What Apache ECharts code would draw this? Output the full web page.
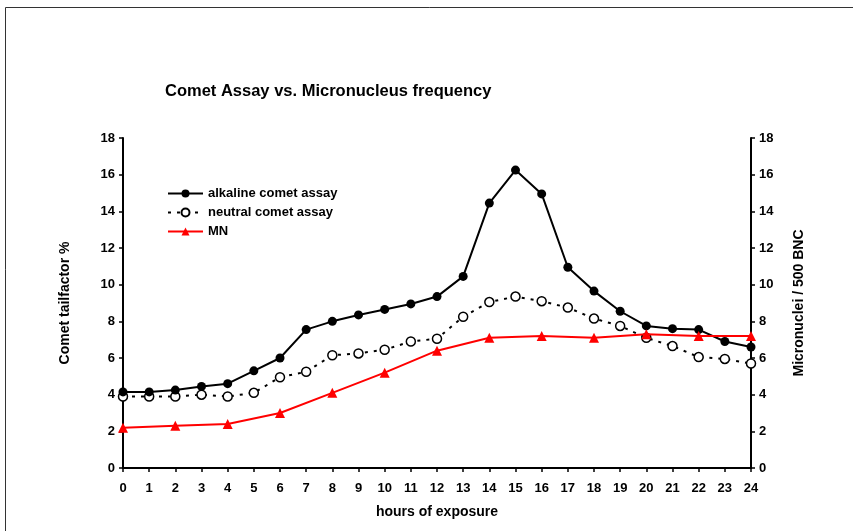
<!DOCTYPE html>
<html>
<head>
<meta charset="utf-8">
<title>Comet Assay vs. Micronucleus frequency</title>
<script src="https://cdn.jsdelivr.net/npm/echarts@6/dist/echarts.min.js"></script>
<style>
  html, body { margin: 0; padding: 0; background: #fff; }
  #chart { width: 853px; height: 531px; }
</style>
</head>
<body>
<div id="chart"></div>
<script>
// hours of exposure
const hours = [0, 1, 2, 3, 4, 5, 6, 7, 8, 9, 10, 11, 12, 13, 14, 15, 16, 17, 18, 19, 20, 21, 22, 23, 24]
const alkaline = [4.15, 4.15, 4.25, 4.45, 4.6, 5.3, 6.0, 7.55, 8.0, 8.35, 8.65, 8.95, 9.35, 10.45, 14.45, 16.25, 14.95, 10.95, 9.65, 8.55, 7.75, 7.6, 7.55, 6.9, 6.6]
const neutral = [3.9, 3.9, 3.9, 4.0, 3.9, 4.1, 4.95, 5.25, 6.15, 6.25, 6.45, 6.9, 7.05, 8.25, 9.05, 9.35, 9.1, 8.75, 8.15, 7.75, 7.1, 6.65, 6.05, 5.95, 5.7]
// MN counted every 2 hours
const mnHours = [0, 2, 4, 6, 8, 10, 12, 14, 16, 18, 20, 22, 24]
const mn = [2.2, 2.3, 2.4, 3.0, 4.1, 5.2, 6.4, 7.1, 7.2, 7.1, 7.3, 7.2, 7.2]

const font = 'Liberation Sans, Arial, sans-serif'
const labelStyle = { color: '#000', fontFamily: font, fontWeight: 'bold', fontSize: 13 }
const nameStyle = { color: '#000', fontFamily: font, fontWeight: 'bold', fontSize: 14 }
const axisLine = { show: true, lineStyle: { color: '#000', width: 2 } }
const axisTick = { show: true, length: 4, lineStyle: { color: '#000', width: 1.5 } }

const chart = echarts.init(document.getElementById('chart'))

const yAxisBase = {
  type: 'value',
  min: 0,
  max: 18,
  interval: 2,
  nameLocation: 'middle',
  nameRotate: 90,
  nameTextStyle: nameStyle,
  axisLine: axisLine,
  axisTick: axisTick,
  axisLabel: Object.assign({ margin: 8 }, labelStyle),
  splitLine: { show: false }
}

const options = {
  animation: false,
  backgroundColor: '#fff',
  graphic: [{
    type: 'rect',
    shape: { x: 5.5, y: 7.5, width: 900, height: 600 },
    style: { fill: 'none', stroke: '#333', lineWidth: 1 },
    silent: true
  }],
  title: {
    text: 'Comet Assay vs. Micronucleus frequency',
    left: 160,
    top: 78,
    textStyle: { color: '#000', fontFamily: font, fontWeight: 'bold', fontSize: 16.5 }
  },
  legend: {
    orient: 'vertical',
    left: 162,
    top: 182,
    itemWidth: 35,
    itemHeight: 10,
    itemGap: 6,
    textStyle: { color: '#000', fontFamily: font, fontWeight: 'bold', fontSize: 13 },
    data: ['alkaline comet assay', 'neutral comet assay', 'MN']
  },
  grid: { left: 123, right: 102, top: 138, bottom: 63 },
  xAxis: {
    type: 'value',
    min: 0,
    max: 24,
    interval: 1,
    name: 'hours of exposure',
    nameLocation: 'middle',
    nameGap: 37,
    nameTextStyle: nameStyle,
    axisLine: axisLine,
    axisTick: axisTick,
    axisLabel: Object.assign({ margin: 14 }, labelStyle),
    splitLine: { show: false }
  },
  yAxis: [
    Object.assign({}, yAxisBase, { name: 'Comet tailfactor %', nameGap: 51, position: 'left' }),
    Object.assign({}, yAxisBase, { name: 'Micronuclei / 500 BNC', nameGap: 41, position: 'right' })
  ],
  series: [
    {
      name: 'alkaline comet assay',
      type: 'line',
      data: hours.map((h, i) => [h, alkaline[i]]),
      symbol: 'circle',
      symbolSize: 9,
      lineStyle: { color: '#000', width: 2 },
      itemStyle: { color: '#000' },
      z: 3
    },
    {
      name: 'neutral comet assay',
      type: 'line',
      data: hours.map((h, i) => [h, neutral[i]]),
      symbol: 'circle',
      symbolSize: 9,
      lineStyle: { color: '#000', width: 2, type: [3, 6] },
      itemStyle: { color: '#fff', borderColor: '#000', borderWidth: 1.5 },
      z: 2
    },
    {
      name: 'MN',
      type: 'line',
      yAxisIndex: 1,
      data: mnHours.map((h, i) => [h, mn[i]]),
      symbol: 'triangle',
      symbolSize: 10,
      lineStyle: { color: '#ff0000', width: 2 },
      itemStyle: { color: '#ff0000' },
      z: 4
    }
  ]
}

chart.setOption(options)
</script>
</body>
</html>
